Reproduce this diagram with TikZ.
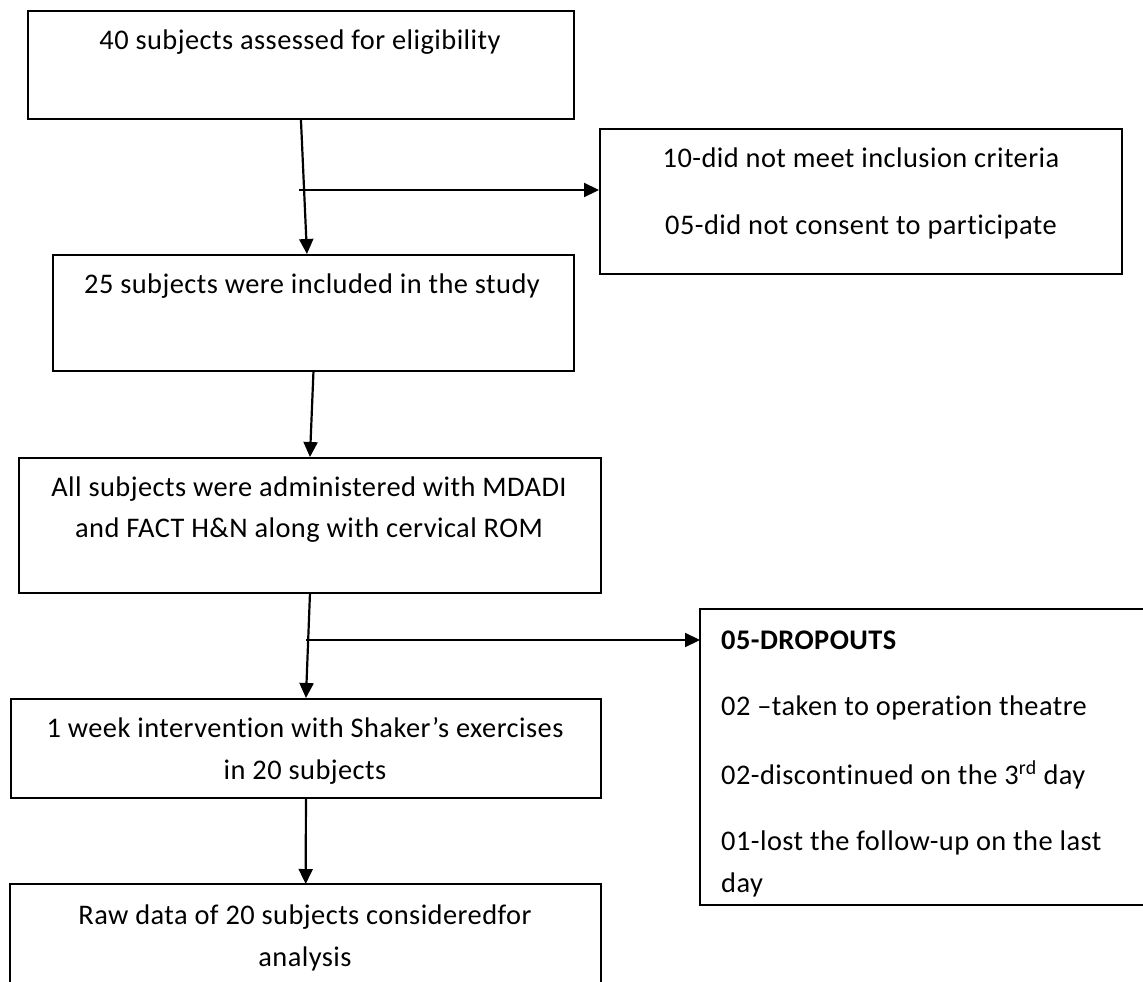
\documentclass[tikz,border=0pt]{standalone}
\usepackage{fontspec}
\setmainfont[Ligatures=NoCommon,LetterSpace=1.6]{Carlito}
\usetikzlibrary{arrows.meta}
\begin{document}
\begin{tikzpicture}[x=1pt,y=-1pt,
  box/.style={draw, line width=1.9pt, inner sep=0pt, anchor=north west},
  openbox/.style={draw=none, inner sep=0pt, anchor=north west},
  txt/.style={font=\fontsize{28.4}{42}\selectfont, inner sep=0pt, anchor=base},
  ltxt/.style={txt, anchor=base west},
  arr/.style={line width=2.2pt, -{Triangle[length=15pt,width=14pt]}},
  edge3/.style={line width=1.9pt}]
\useasboundingbox (0,0) rectangle (1143,982);
% boxes
\node[box, minimum width=546pt, minimum height=108pt] (b1) at (27,10) {};
\node[box, minimum width=522pt, minimum height=145pt] (b2) at (599,128) {};
\node[box, minimum width=521pt, minimum height=116pt] (b3) at (52,254) {};
\node[box, minimum width=582pt, minimum height=135pt] (b4) at (18,457) {};
\node[box, minimum width=590pt, minimum height=99pt] (b5) at (10,698) {};
\node[openbox, minimum width=591pt, minimum height=98pt] (b6) at (10,884) {};
\node[openbox, minimum width=443pt, minimum height=296pt] (b7) at (700,609) {};
\draw[edge3] (b6.south west) -- (b6.north west) -- (b6.north east) -- (b6.south east);
\draw[edge3] (b7.north east) -- (b7.north west) -- (b7.south west) -- (b7.south east);
% texts
\node[txt] (t1) at (300,49) {40 subjects assessed for eligibility};
\node[txt] (t2a) at (861,167) {10-did not meet inclusion criteria};
\node[txt] (t2b) at (861,234) {05-did not consent to participate};
\node[txt] (t3) at (312,293) {25 subjects were included in the study};
\node[txt] (t4a) at (309,496) {All subjects were administered with MDADI};
\node[txt] (t4b) at (309,537) {and FACT H\&N along with cervical ROM};
\node[txt] (t5a) at (305,737) {1 week intervention with Shaker’s exercises};
\node[txt] (t5b) at (305,779) {in 20 subjects};
\node[txt] (t6a) at (305,924) {Raw data of 20 subjects consideredfor};
\node[txt] (t6b) at (305,966) {analysis};
\node[ltxt] (t7a) at (721,649) {\bfseries 05-DROPOUTS};
\node[ltxt] (t7b) at (721,715) {02 –taken to operation theatre};
\node[ltxt] (t7c) at (721,784) {02-discontinued on the 3\textsuperscript{rd} day};
\node[ltxt] (t7d) at (721,850) {01-lost the follow-up on the last};
\begin{scope}
\clip (700,860) rectangle (1143,896);
\node[ltxt] (t7e) at (721,892) {day};
\end{scope}
% connectors
\coordinate (j1) at (299,190);
\coordinate (j2) at (306,640);
\draw[arr] (b1.south) -- ([xshift=-6.5pt]b3.north);
\draw[arr] (j1) -- (j1 -| b2.west);
\draw[arr] (b3.south) -- (b4.north);
\draw[arr] (b4.south) -- (b5.north);
\draw[arr] (j2) -- (j2 -| b7.west);
\draw[arr] (b5.south) -- (b6.north);
\end{tikzpicture}
\end{document}
